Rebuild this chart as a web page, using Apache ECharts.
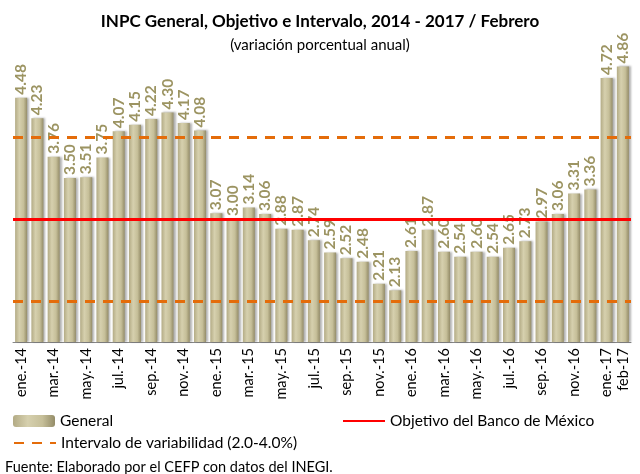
<!DOCTYPE html>
<html>
<head>
    <meta charset="utf-8">
    <title>INPC</title>
    <script src="https://cdn.jsdelivr.net/npm/echarts@6/dist/echarts.min.js"></script>
</head>
<body style="margin:0">
<div id="main" style="width: 640px;height:474px;"></div>
<script type="text/javascript">
    var meses = [
        'ene.-14','feb.-14','mar.-14','abr.-14','may.-14','jun.-14','jul.-14','ago.-14','sep.-14','oct.-14','nov.-14','dic.-14',
        'ene.-15','feb.-15','mar.-15','abr.-15','may.-15','jun.-15','jul.-15','ago.-15','sep.-15','oct.-15','nov.-15','dic.-15',
        'ene.-16','feb.-16','mar.-16','abr.-16','may.-16','jun.-16','jul.-16','ago.-16','sep.-16','oct.-16','nov.-16','dic.-16',
        'ene.-17','feb-17'
    ];
    var general = [
        4.48,4.23,3.76,3.50,3.51,3.75,4.07,4.15,4.22,4.30,4.17,4.08,
        3.07,3.00,3.14,3.06,2.88,2.87,2.74,2.59,2.52,2.48,2.21,2.13,
        2.61,2.87,2.60,2.54,2.60,2.54,2.65,2.73,2.97,3.06,3.31,3.36,
        4.72,4.86
    ];
    var objetivo = 3.0;
    var intervalo = [2.0, 4.0];

    var font = 'Lato';
    var myChart = echarts.init(document.getElementById('main'));

    var option = {
        animation: false,
        textStyle: {fontFamily: font},
        title: [
            {
                text: 'INPC General, Objetivo e Intervalo, 2014 - 2017 / Febrero',
                left: 'center', top: 8,
                textStyle: {fontSize: 17, fontWeight: 'bold', color: '#000', fontFamily: font}
            },
            {
                text: '(variación porcentual anual)',
                left: 'center', top: 33,
                textStyle: {fontSize: 15, fontWeight: 'normal', color: '#000', fontFamily: font}
            },
            {
                text: 'Fuente: Elaborado por el CEFP con datos del INEGI.',
                left: 0, top: 455,
                textStyle: {fontSize: 14.5, fontWeight: 'normal', color: '#000', fontFamily: font}
            }
        ],
        legend: [
            {
                data: ['General'],
                left: 8, top: 408,
                itemWidth: 42, itemHeight: 12, itemGap: 4,
                textStyle: {fontSize: 15.5, color: '#000'}
            },
            {
                data: [{name: 'Objetivo del Banco de México', itemStyle: {opacity: 0}}],
                left: 337, top: 408,
                itemWidth: 42, itemHeight: 12, itemGap: 4,
                textStyle: {fontSize: 15.5, color: '#000'}
            },
            {
                data: [{name: 'Intervalo de variabilidad (2.0-4.0%)', itemStyle: {opacity: 0}}],
                left: 8, top: 430,
                itemWidth: 42, itemHeight: 12, itemGap: 4,
                textStyle: {fontSize: 15.5, color: '#000'}
            }
        ],
        grid: {left: 13, right: 9, top: 55, bottom: 132},
        xAxis: {
            type: 'category',
            data: meses,
            axisLine: {lineStyle: {color: '#888'}},
            axisTick: {interval: 0, length: 5, lineStyle: {color: '#888'}},
            axisLabel: {
                rotate: 90,
                fontSize: 14.5,
                color: '#000',
                margin: 6,
                interval: function (idx) { return idx % 2 === 0 || idx === meses.length - 1; }
            }
        },
        yAxis: {
            type: 'value',
            min: 1.5,
            max: 5,
            show: false
        },
        series: [
            {
                name: 'General',
                type: 'bar',
                data: general,
                barCategoryGap: '26%',
                z: 3,
                itemStyle: {
                    color: new echarts.graphic.LinearGradient(0, 0, 1, 0, [
                        {offset: 0, color: '#b3ab85'},
                        {offset: 0.35, color: '#d6d0ae'},
                        {offset: 0.7, color: '#c6bf99'},
                        {offset: 1, color: '#948c68'}
                    ]),
                    shadowColor: 'rgba(0,0,0,0.3)',
                    shadowBlur: 2,
                    shadowOffsetX: 2
                },
                label: {
                    show: true,
                    position: 'top',
                    rotate: 90,
                    align: 'left',
                    verticalAlign: 'middle',
                    distance: 3,
                    fontSize: 15.5,
                    fontWeight: 'bold',
                    color: '#9c9462',
                    formatter: function (p) { return p.value.toFixed(2); }
                }
            },
            {
                name: 'Objetivo del Banco de México',
                type: 'line',
                data: [],
                symbol: 'none',
                lineStyle: {color: '#ff0000', width: 3},
                itemStyle: {color: '#ff0000'},
                markLine: {
                    silent: true,
                    symbol: 'none',
                    label: {show: false},
                    lineStyle: {color: '#ff0000', width: 3, type: 'solid'},
                    data: [{yAxis: objetivo}]
                }
            },
            {
                name: 'Intervalo de variabilidad (2.0-4.0%)',
                type: 'line',
                data: [],
                symbol: 'none',
                lineStyle: {color: '#e46c0a', width: 3, type: [10, 8]},
                itemStyle: {color: '#e46c0a'},
                markLine: {
                    silent: true,
                    symbol: 'none',
                    label: {show: false},
                    lineStyle: {color: '#e46c0a', width: 3, type: [10, 8]},
                    data: [{yAxis: intervalo[0]}, {yAxis: intervalo[1]}]
                }
            }
        ]
    };

    myChart.setOption(option);
</script>
</body>
</html>
